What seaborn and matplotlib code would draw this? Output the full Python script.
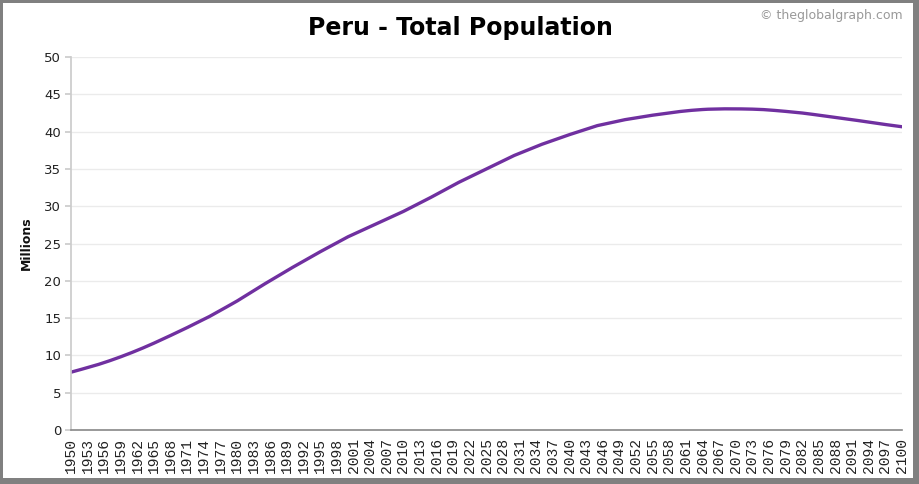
import matplotlib
matplotlib.use("Agg")
import matplotlib.pyplot as plt
import seaborn as sns
import pandas as pd
from matplotlib.patches import Rectangle

years = list(range(1950, 2101))
population = [
    7.75, 7.95, 8.16, 8.37, 8.58,
    8.80, 9.04, 9.29, 9.55, 9.82,
    10.10, 10.39, 10.69, 11.00, 11.32,
    11.65, 11.99, 12.33, 12.68, 13.03,
    13.38, 13.74, 14.11, 14.48, 14.85,
    15.22, 15.63, 16.04, 16.46, 16.88,
    17.30, 17.76, 18.22, 18.68, 19.14,
    19.60, 20.04, 20.48, 20.92, 21.36,
    21.80, 22.22, 22.64, 23.06, 23.48,
    23.90, 24.30, 24.70, 25.10, 25.50,
    25.90, 26.24, 26.58, 26.92, 27.26,
    27.60, 27.94, 28.28, 28.62, 28.96,
    29.30, 29.68, 30.06, 30.44, 30.82,
    31.20, 31.60, 32.00, 32.40, 32.80,
    33.20, 33.56, 33.92, 34.28, 34.64,
    35.00, 35.36, 35.72, 36.08, 36.44,
    36.80, 37.10, 37.40, 37.70, 38.00,
    38.30, 38.56, 38.82, 39.08, 39.34,
    39.60, 39.84, 40.08, 40.32, 40.56,
    40.80, 40.96, 41.12, 41.28, 41.44,
    41.60, 41.72, 41.84, 41.96, 42.08,
    42.20, 42.30, 42.40, 42.50, 42.60,
    42.70, 42.78, 42.85, 42.91, 42.96,
    43.00, 43.02, 43.04, 43.05, 43.05,
    43.05, 43.04, 43.03, 43.01, 42.98,
    42.95, 42.90, 42.84, 42.78, 42.71,
    42.64, 42.57, 42.49, 42.40, 42.30,
    42.20, 42.10, 42.00, 41.90, 41.80,
    41.70, 41.60, 41.49, 41.38, 41.26,
    41.15, 41.05, 40.95, 40.85, 40.75,
    40.65,
]
x_ticks = list(range(1950, 2101, 3))
y_ticks = list(range(0, 51, 5))

df = pd.DataFrame({"Year": years, "Population": population})

sns.set_theme(style="white")
plt.rcParams["font.family"] = ["DejaVu Sans"]

W, H = 919, 484
fig = plt.figure(figsize=(W / 100, H / 100), dpi=100)
ax = fig.add_axes([71 / W, 1 - 430 / H, (902 - 71) / W, (430 - 57) / H])

sns.lineplot(data=df, x="Year", y="Population", ax=ax, color="#7030A0",
             linewidth=2.4, legend=False)

ax.set_xlim(1950, 2100)
ax.set_ylim(0, 50)
ax.set_xticks(x_ticks)
ax.set_xticklabels([str(t) for t in x_ticks], rotation=90,
                   family="Liberation Mono", fontsize=10.5, color="#222222")
ax.set_yticks(y_ticks)
ax.set_yticklabels([str(t) for t in y_ticks], fontsize=9.5, color="#222222")
ax.grid(axis="y", color="#ebebeb", linewidth=1)
ax.set_axisbelow(True)
ax.tick_params(axis="y", length=4, color="#cccccc", pad=3, left=True)
ax.tick_params(axis="x", length=0, pad=6)
for s in ["top", "right"]:
    ax.spines[s].set_visible(False)
ax.spines["left"].set_color("#cccccc")
ax.spines["bottom"].set_color("#888888")
ax.spines["bottom"].set_linewidth(1.2)
ax.set_xlabel("")
ax.set_ylabel("Millions", fontsize=9, fontweight="bold", color="#111111", labelpad=8)

fig.text(460 / W, 1 - 28 / H, "Peru - Total Population", ha="center", va="center",
         fontsize=17, fontweight="bold", color="#000000")
fig.text(903 / W, 1 - 16 / H, "© theglobalgraph.com", ha="right", va="center",
         fontsize=9, color="#999999")

border = "#808080"
for (x0, y0, w, h) in [(0, 0, 3, H), (0, 0, W, 3), (W - 6, 0, 6, H), (0, H - 6, W, 6)]:
    fig.patches.append(Rectangle((x0 / W, 1 - (y0 + h) / H), w / W, h / H,
                                 transform=fig.transFigure, facecolor=border,
                                 edgecolor="none", zorder=10))

fig.savefig("out.png", dpi=100, facecolor="white")
